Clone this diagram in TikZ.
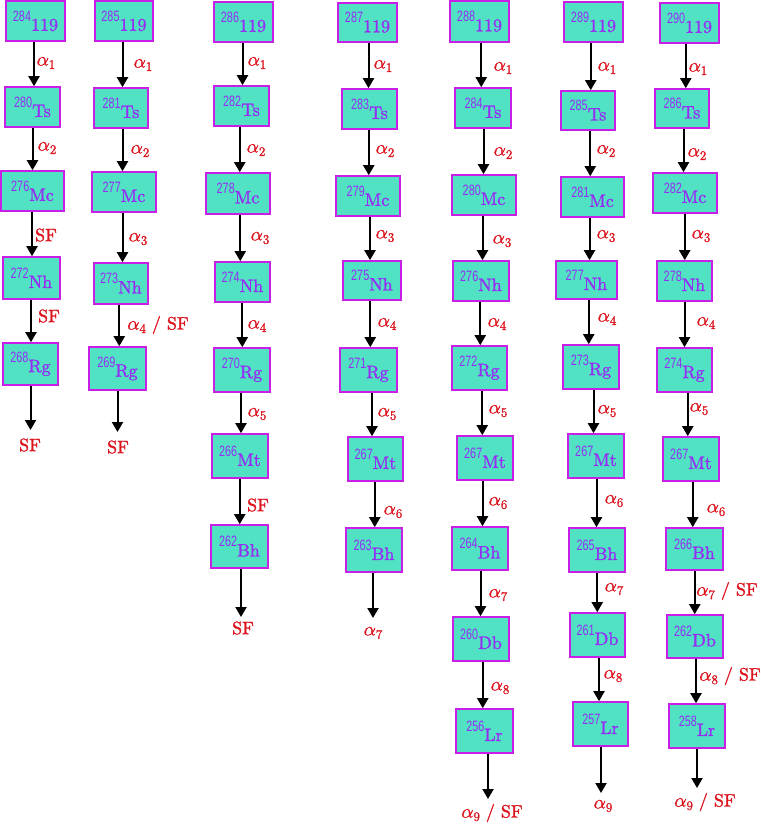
\documentclass[tikz,border=0pt]{standalone}
\usepackage{fontspec}
\usepackage{graphicx}
\usetikzlibrary{arrows.meta,calc}
\newfontfamily\supf{Liberation Sans}
\newfontfamily\symf{lmroman10-regular.otf}[FakeBold=1.4]
\newfontfamily\grkf{latinmodern-math.otf}[FakeBold=1.4]
\definecolor{boxfill}{RGB}{80,226,194}
\definecolor{boxline}{RGB}{200,30,230}
\definecolor{symcol}{RGB}{150,45,245}
\definecolor{labred}{RGB}{220,20,30}
\newcommand{\isot}[2]{\raisebox{9.5pt}{\scalebox{0.72}[1]{\supf\fontsize{15}{15}\selectfont #1}}#2}
\newcommand{\lalpha}[1]{{\grkf\fontsize{19}{19}\selectfont 𝛼}\raisebox{-3.5pt}{\fontsize{13}{13}\selectfont #1}}
\tikzset{
  nuc/.style={draw=boxline, fill=boxfill, line width=1.6pt, text=symcol, inner sep=0pt,
    font=\symf\fontsize{18}{18}\selectfont},
  arr/.style={line width=2pt, -{Triangle[width=11pt,length=10pt]}},
  lab/.style={text=labred, inner sep=0pt, font=\symf\fontsize{18}{18}\selectfont},
}
\newcommand{\bx}[6]{\node[nuc, minimum width=#4, minimum height=#5] (#1) at (#2,#3) {#6};}
\newcommand{\varr}[2]{\path ($(#1.south)!0.5!(#2.north)$) coordinate (m#1#2);
  \draw[arr] (m#1#2 |- #1.south) -- (m#1#2 |- #2.north);}
\newcommand{\earr}[2]{\draw[arr] (#1.south -| #2) -- (#2);}
\begin{document}
\begin{tikzpicture}[x=1pt,y=-1pt]
\useasboundingbox (0,0) rectangle (760,824);
% Column 1
\bx{a1}{35.5}{21}{59}{40}{\isot{284}{119}}
\bx{a2}{32.5}{107}{55}{40}{\isot{280}{Ts}}
\bx{a3}{32.5}{191}{63}{40}{\isot{276}{Mc}}
\bx{a4}{31.5}{278}{57}{42}{\isot{272}{Nh}}
\bx{a5}{30.5}{364}{55}{42}{\isot{268}{Rg}}
\coordinate (ae) at (30.5,430);
\varr{a1}{a2}\varr{a2}{a3}\varr{a3}{a4}\varr{a4}{a5}\earr{a5}{ae}
\node[lab] (al1) at (46,63) {\lalpha1};
\node[lab] (al2) at (47,148) {\lalpha2};
\node[lab] (al3) at (46,235) {SF};
\node[lab] (al4) at (49,316) {SF};
\node[lab] (al5) at (30,445) {SF};
% Column 2
\bx{b1}{124}{21}{58}{40}{\isot{285}{119}}
\bx{b2}{121}{108}{54}{40}{\isot{281}{Ts}}
\bx{b3}{124}{192}{64}{40}{\isot{277}{Mc}}
\bx{b4}{121}{283.5}{54}{41}{\isot{273}{Nh}}
\bx{b5}{117.5}{368.5}{57}{43}{\isot{269}{Rg}}
\coordinate (be) at (117.5,432);
\varr{b1}{b2}\varr{b2}{b3}\varr{b3}{b4}\varr{b4}{b5}\earr{b5}{be}
\node[lab] (bl1) at (143,65) {\lalpha1};
\node[lab] (bl2) at (140,151) {\lalpha2};
\node[lab] (bl3) at (138,239) {\lalpha3};
\node[lab] (bl4) at (158,325) {\lalpha4 / SF};
\node[lab] (bl5) at (118,447) {SF};
% Column 3
\bx{c1}{243.5}{22}{59}{40}{\isot{286}{119}}
\bx{c2}{241.5}{106}{55}{40}{\isot{282}{Ts}}
\bx{c3}{238}{193.5}{64}{41}{\isot{278}{Mc}}
\bx{c4}{242.5}{282}{55}{40}{\isot{274}{Nh}}
\bx{c5}{242}{370}{56}{44}{\isot{270}{Rg}}
\bx{c6}{240}{456}{56}{44}{\isot{266}{Mt}}
\bx{c7}{239.5}{546.5}{57}{43}{\isot{262}{Bh}}
\coordinate (ce) at (241,617);
\varr{c1}{c2}\varr{c2}{c3}\varr{c3}{c4}\varr{c4}{c5}\varr{c5}{c6}\varr{c6}{c7}\earr{c7}{ce}
\node[lab] (cl1) at (257,63) {\lalpha1};
\node[lab] (cl2) at (256,150) {\lalpha2};
\node[lab] (cl3) at (260,238) {\lalpha3};
\node[lab] (cl4) at (257,326) {\lalpha4};
\node[lab] (cl5) at (257,414) {\lalpha5};
\node[lab] (cl6) at (258,505) {SF};
\node[lab] (cl7) at (243,628) {SF};
% Column 4
\bx{d1}{367.5}{22.5}{59}{39}{\isot{287}{119}}
\bx{d2}{369.5}{109}{55}{40}{\isot{283}{Ts}}
\bx{d3}{368}{196}{64}{40}{\isot{279}{Mc}}
\bx{d4}{372}{280.5}{58}{39}{\isot{275}{Nh}}
\bx{d5}{368.5}{370}{57}{44}{\isot{271}{Rg}}
\bx{d6}{375.5}{459}{55}{44}{\isot{267}{Mt}}
\bx{d7}{374}{550}{56}{44}{\isot{263}{Bh}}
\coordinate (de) at (373,618);
\varr{d1}{d2}\varr{d2}{d3}\varr{d3}{d4}\varr{d4}{d5}\varr{d5}{d6}\varr{d6}{d7}\earr{d7}{de}
\node[lab] (dl1) at (383,66) {\lalpha1};
\node[lab] (dl2) at (385,151) {\lalpha2};
\node[lab] (dl3) at (385,236) {\lalpha3};
\node[lab] (dl4) at (387,324) {\lalpha4};
\node[lab] (dl5) at (387,414) {\lalpha5};
\node[lab] (dl6) at (393,512) {\lalpha6};
\node[lab] (dl7) at (373,633) {\lalpha7};
% Column 5
\bx{f1}{479.5}{21.5}{59}{41}{\isot{288}{119}}
\bx{f2}{483}{108}{56}{40}{\isot{284}{Ts}}
\bx{f3}{484}{195}{64}{40}{\isot{280}{Mc}}
\bx{f4}{481}{281}{56}{40}{\isot{276}{Nh}}
\bx{f5}{479.5}{368}{55}{44}{\isot{272}{Rg}}
\bx{f6}{485}{458}{56}{44}{\isot{267}{Mt}}
\bx{f7}{480}{548.5}{56}{43}{\isot{264}{Bh}}
\bx{f8}{481}{639}{56}{44}{\isot{260}{Db}}
\bx{f9}{484.5}{731}{57}{44}{\isot{256}{Lr}}
\coordinate (fe) at (488,799);
\varr{f1}{f2}\varr{f2}{f3}\varr{f3}{f4}\varr{f4}{f5}\varr{f5}{f6}\varr{f6}{f7}\varr{f7}{f8}\varr{f8}{f9}\earr{f9}{fe}
\node[lab] (fl1) at (503,68) {\lalpha1};
\node[lab] (fl2) at (503,153) {\lalpha2};
\node[lab] (fl3) at (502,241) {\lalpha3};
\node[lab] (fl4) at (497,324) {\lalpha4};
\node[lab] (fl5) at (498,411) {\lalpha5};
\node[lab] (fl6) at (498,503) {\lalpha6};
\node[lab] (fl7) at (498,595) {\lalpha7};
\node[lab] (fl8) at (500,688) {\lalpha8};
\node[lab] (fl9) at (492,813) {\lalpha9 / SF};
% Column 6
\bx{g1}{593.5}{22}{59}{40}{\isot{289}{119}}
\bx{g2}{588}{110.5}{54}{39}{\isot{285}{Ts}}
\bx{g3}{592.5}{197}{63}{40}{\isot{281}{Mc}}
\bx{g4}{586.5}{280}{61}{38}{\isot{277}{Nh}}
\bx{g5}{591}{367}{56}{44}{\isot{273}{Rg}}
\bx{g6}{596}{456}{56}{44}{\isot{267}{Mt}}
\bx{g7}{597}{550}{56}{44}{\isot{265}{Bh}}
\bx{g8}{597.5}{635}{55}{44}{\isot{261}{Db}}
\bx{g9}{600.5}{724}{55}{44}{\isot{257}{Lr}}
\coordinate (ge) at (601,793);
\varr{g1}{g2}\varr{g2}{g3}\varr{g3}{g4}\varr{g4}{g5}\varr{g5}{g6}\varr{g6}{g7}\varr{g7}{g8}\varr{g8}{g9}\earr{g9}{ge}
\node[lab] (gl1) at (607,68) {\lalpha1};
\node[lab] (gl2) at (606,151) {\lalpha2};
\node[lab] (gl3) at (606,236) {\lalpha3};
\node[lab] (gl4) at (607,319) {\lalpha4};
\node[lab] (gl5) at (607,411) {\lalpha5};
\node[lab] (gl6) at (614,501) {\lalpha6};
\node[lab] (gl7) at (614,589) {\lalpha7};
\node[lab] (gl8) at (613,676) {\lalpha8};
\node[lab] (gl9) at (603,806) {\lalpha9};
% Column 7
\bx{h1}{689.5}{23}{59}{40}{\isot{290}{119}}
\bx{h2}{682}{108.5}{54}{39}{\isot{286}{Ts}}
\bx{h3}{685}{193}{64}{40}{\isot{282}{Mc}}
\bx{h4}{684.5}{281}{55}{40}{\isot{278}{Nh}}
\bx{h5}{684.5}{370}{55}{44}{\isot{274}{Rg}}
\bx{h6}{691}{459}{56}{44}{\isot{267}{Mt}}
\bx{h7}{694.5}{549}{57}{42}{\isot{266}{Bh}}
\bx{h8}{695}{636.5}{56}{43}{\isot{262}{Db}}
\bx{h9}{697}{726}{56}{44}{\isot{258}{Lr}}
\coordinate (he) at (697,788);
\varr{h1}{h2}\varr{h2}{h3}\varr{h3}{h4}\varr{h4}{h5}\varr{h5}{h6}\varr{h6}{h7}\varr{h7}{h8}\varr{h8}{h9}\earr{h9}{he}
\node[lab] (hl1) at (698,69) {\lalpha1};
\node[lab] (hl2) at (697,154) {\lalpha2};
\node[lab] (hl3) at (701,236) {\lalpha3};
\node[lab] (hl4) at (706,323) {\lalpha4};
\node[lab] (hl5) at (699,409) {\lalpha5};
\node[lab] (hl6) at (716,510) {\lalpha6};
\node[lab] (hl7) at (727,591) {\lalpha7 / SF};
\node[lab] (hl8) at (730,676) {\lalpha8 / SF};
\node[lab] (hl9) at (705,802) {\lalpha9 / SF};
\end{tikzpicture}
\end{document}
